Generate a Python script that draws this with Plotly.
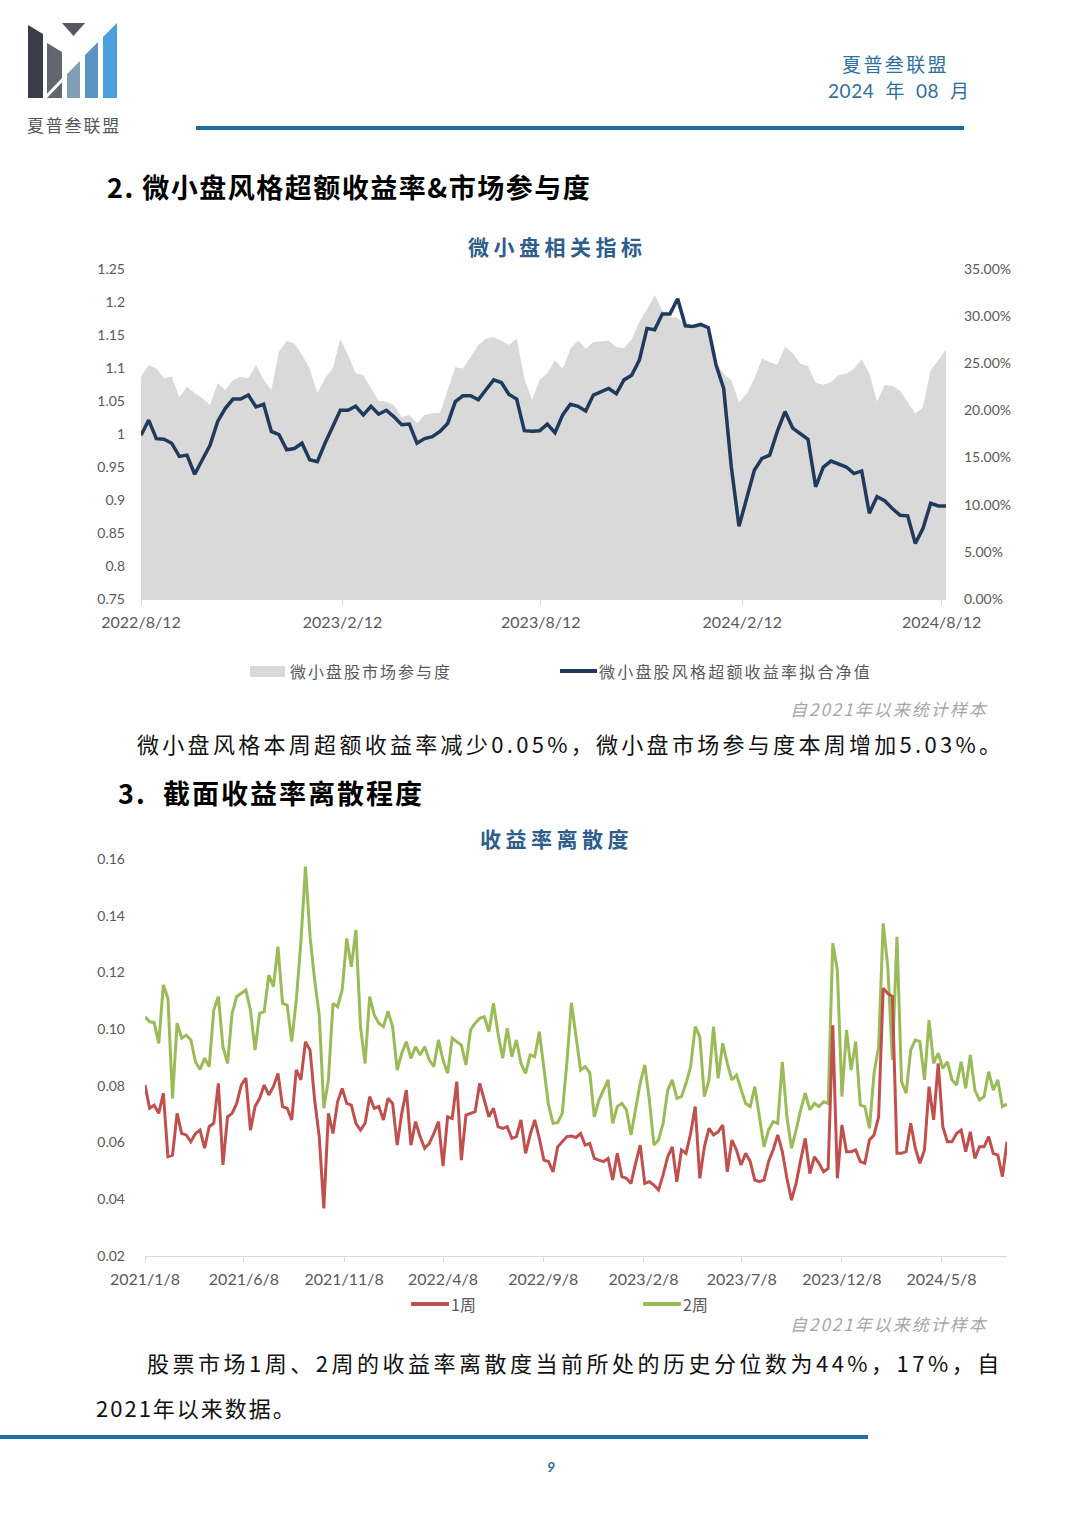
import pandas as pd
import plotly.graph_objects as go

W, H = 1080, 1528

# ---- chart 1: micro-cap indicators, weekly from 2022/8/12 ----
net_value = [
    0.998, 1.021, 0.993, 0.992, 0.986, 0.966, 0.968, 0.939, 0.961, 0.983,
    1.019, 1.039, 1.053, 1.053, 1.059, 1.041, 1.045, 1.004, 0.999, 0.976,
    0.978, 0.986, 0.961, 0.958, 0.986, 1.011, 1.036, 1.036, 1.042, 1.029,
    1.042, 1.030, 1.036, 1.026, 1.014, 1.015, 0.986, 0.993, 0.996, 1.004,
    1.016, 1.049, 1.058, 1.058, 1.052, 1.067, 1.082, 1.078, 1.060, 1.053,
    1.005, 1.004, 1.005, 1.015, 1.002, 1.029, 1.045, 1.042, 1.035, 1.059,
    1.064, 1.069, 1.061, 1.082, 1.089, 1.112, 1.160, 1.158, 1.182, 1.182,
    1.205, 1.164, 1.163, 1.166, 1.161, 1.105, 1.069, 0.950, 0.860, 0.905,
    0.945, 0.963, 0.968, 1.004, 1.034, 1.009, 1.001, 0.992, 0.920, 0.950,
    0.959, 0.955, 0.950, 0.940, 0.944, 0.880, 0.905, 0.899, 0.887, 0.877,
    0.876, 0.834, 0.857, 0.895, 0.891, 0.891,
]
participation = [  # percent
    23.58, 24.82, 24.46, 23.40, 23.58, 21.39, 22.52, 21.81, 21.28, 20.57,
    22.87, 22.16, 23.23, 23.58, 23.40, 24.82, 23.23, 22.16, 26.23, 27.36,
    27.11, 25.88, 24.46, 21.81, 23.40, 24.46, 27.54, 25.88, 23.93, 23.76,
    22.34, 21.03, 20.93, 20.57, 19.27, 19.51, 18.63, 19.51, 19.69, 19.76,
    22.16, 24.57, 24.46, 25.77, 26.94, 27.64, 27.75, 27.40, 26.94, 27.64,
    23.40, 21.10, 23.23, 23.93, 25.31, 24.43, 26.48, 27.43, 26.55, 27.26,
    27.33, 27.40, 26.73, 26.62, 27.54, 29.38, 30.72, 32.21, 30.62, 29.91,
    29.80, 29.10, 28.67, 29.03, 28.85, 25.13, 23.89, 23.19, 20.89, 21.77,
    23.36, 25.49, 25.13, 24.85, 26.73, 26.12, 24.96, 24.71, 22.94, 22.73,
    23.01, 23.72, 23.89, 24.43, 25.42, 23.89, 20.96, 22.66, 22.58, 22.12,
    20.89, 19.65, 20.36, 24.25, 25.31, 26.48,
]
c1_tick_dates = ['2022-08-12', '2023-02-12', '2023-08-12', '2024-02-12', '2024-08-12']
c1_tick_text = ['2022/8/12', '2023/2/12', '2023/8/12', '2024/2/12', '2024/8/12']

# ---- chart 2: return dispersion, weekly from 2021/1/8 ----
disp_1w = [
    0.0803, 0.0721, 0.0732, 0.0703, 0.0774, 0.0550, 0.0556, 0.0703, 0.0632, 0.0627,
    0.0603, 0.0632, 0.0644, 0.0580, 0.0656, 0.0668, 0.0809, 0.0521, 0.0691, 0.0703,
    0.0738, 0.0803, 0.0827, 0.0644, 0.0727, 0.0756, 0.0803, 0.0768, 0.0797, 0.0844,
    0.0727, 0.0721, 0.0680, 0.0856, 0.0821, 0.0956, 0.0926, 0.0750, 0.0621, 0.0368,
    0.0703, 0.0632, 0.0744, 0.0791, 0.0738, 0.0732, 0.0668, 0.0644, 0.0668, 0.0762,
    0.0721, 0.0727, 0.0680, 0.0756, 0.0738, 0.0591, 0.0703, 0.0785, 0.0591, 0.0674,
    0.0621, 0.0580, 0.0597, 0.0632, 0.0674, 0.0517, 0.0691, 0.0685, 0.0815, 0.0538,
    0.0697, 0.0703, 0.0709, 0.0809, 0.0750, 0.0691, 0.0721, 0.0656, 0.0650, 0.0656,
    0.0615, 0.0621, 0.0680, 0.0562, 0.0627, 0.0680, 0.0615, 0.0538, 0.0533, 0.0497,
    0.0585, 0.0603, 0.0621, 0.0623, 0.0618, 0.0632, 0.0591, 0.0597, 0.0544, 0.0538,
    0.0533, 0.0544, 0.0468, 0.0562, 0.0480, 0.0474, 0.0456, 0.0527, 0.0591, 0.0456,
    0.0462, 0.0450, 0.0433, 0.0486, 0.0550, 0.0585, 0.0462, 0.0574, 0.0562, 0.0632,
    0.0727, 0.0474, 0.0585, 0.0650, 0.0627, 0.0638, 0.0662, 0.0497, 0.0609, 0.0574,
    0.0521, 0.0562, 0.0533, 0.0468, 0.0462, 0.0468, 0.0533, 0.0574, 0.0627, 0.0568,
    0.0474, 0.0397, 0.0456, 0.0538, 0.0615, 0.0491, 0.0550, 0.0527, 0.0497, 0.0509,
    0.1014, 0.0474, 0.0662, 0.0568, 0.0568, 0.0574, 0.0533, 0.0527, 0.0609, 0.0627,
    0.0691, 0.1144, 0.1126, 0.1115, 0.0562, 0.0562, 0.0568, 0.0668, 0.0580, 0.0527,
    0.0574, 0.0797, 0.0680, 0.0879, 0.0656, 0.0603, 0.0603, 0.0632, 0.0644, 0.0568,
    0.0638, 0.0544, 0.0585, 0.0585, 0.0621, 0.0562, 0.0556, 0.0480, 0.0603,
]
disp_2w = [
    0.1044, 0.1026, 0.1023, 0.0950, 0.1156, 0.1109, 0.0756, 0.1021, 0.0968, 0.0979,
    0.0962, 0.0885, 0.0858, 0.0897, 0.0868, 0.1067, 0.1115, 0.0938, 0.0879, 0.1056,
    0.1115, 0.1126, 0.1138, 0.1067, 0.0926, 0.1056, 0.1062, 0.1191, 0.1150, 0.1291,
    0.1091, 0.1085, 0.0956, 0.1103, 0.1308, 0.1573, 0.1326, 0.1173, 0.1050, 0.0721,
    0.0821, 0.1091, 0.1079, 0.1138, 0.1320, 0.1220, 0.1350, 0.1009, 0.0879, 0.1115,
    0.1050, 0.1021, 0.1009, 0.1062, 0.1009, 0.0856, 0.0915, 0.0956, 0.0897, 0.0938,
    0.0909, 0.0938, 0.0891, 0.0868, 0.0962, 0.0891, 0.0844, 0.0968, 0.0956, 0.0944,
    0.0874, 0.0997, 0.1021, 0.1038, 0.1044, 0.0991, 0.1091, 0.0985, 0.0897, 0.1003,
    0.0903, 0.0962, 0.0879, 0.0844, 0.0909, 0.0903, 0.0991, 0.0868, 0.0733, 0.0668,
    0.0670, 0.0703, 0.0879, 0.1093, 0.0973, 0.0856, 0.0868, 0.0847, 0.0691, 0.0750,
    0.0785, 0.0821, 0.0668, 0.0727, 0.0738, 0.0715, 0.0627, 0.0721, 0.0809, 0.0874,
    0.0750, 0.0591, 0.0609, 0.0668, 0.0785, 0.0821, 0.0756, 0.0762, 0.0809, 0.0868,
    0.1009, 0.0973, 0.0762, 0.0821, 0.1009, 0.0827, 0.0950, 0.0879, 0.0821, 0.0838,
    0.0785, 0.0738, 0.0727, 0.0797, 0.0691, 0.0585, 0.0644, 0.0674, 0.0668, 0.0885,
    0.0691, 0.0580, 0.0644, 0.0715, 0.0774, 0.0715, 0.0738, 0.0727, 0.0744, 0.0738,
    0.1303, 0.1209, 0.0762, 0.0997, 0.0856, 0.0956, 0.0732, 0.0727, 0.0650, 0.0844,
    0.0938, 0.1373, 0.1220, 0.0891, 0.1326, 0.0815, 0.0774, 0.0926, 0.0962, 0.0956,
    0.0821, 0.1032, 0.0879, 0.0915, 0.0862, 0.0885, 0.0821, 0.0803, 0.0885, 0.0791,
    0.0909, 0.0785, 0.0750, 0.0762, 0.0850, 0.0785, 0.0821, 0.0727, 0.0736,
]
c2_tick_dates = ['2021-01-08', '2021-06-08', '2021-11-08', '2022-04-08', '2022-09-08',
                 '2023-02-08', '2023-07-08', '2023-12-08', '2024-05-08']
c2_tick_text = ['2021/1/8', '2021/6/8', '2021/11/8', '2022/4/8', '2022/9/8',
                '2023/2/8', '2023/7/8', '2023/12/8', '2024/5/8']

CJK = 'Noto Sans CJK SC'
NUM = 'Lato, Noto Sans CJK SC'
NAVY = '#1f3a5c'
RED = '#c0504d'
GREEN = '#9bbb59'
AREA = '#d9d9d9'
TICK = '#595959'
BLUE = '#2f6f9f'


# page pixel -> paper coordinates
def fx(px):
    return px / W


def fy(py):
    return 1 - py / H


d1 = pd.date_range('2022-08-12', periods=len(net_value), freq='7D')
d2 = pd.date_range('2021-01-08', periods=len(disp_1w), freq='7D')

fig = go.Figure()
fig.add_trace(go.Scatter(x=d1, y=[v / 100 for v in participation], mode='lines', fill='tozeroy',
                         fillcolor=AREA, line=dict(width=0, color=AREA), name='微小盘股市场参与度',
                         xaxis='x', yaxis='y', showlegend=False, hoverinfo='skip'))
fig.add_trace(go.Scatter(x=d1, y=net_value, mode='lines', line=dict(color=NAVY, width=3.5),
                         name='微小盘股风格超额收益率拟合净值', xaxis='x', yaxis='y2', showlegend=False))
fig.add_trace(go.Scatter(x=d2, y=disp_2w, mode='lines', line=dict(color=GREEN, width=3),
                         name='2周', xaxis='x2', yaxis='y3', showlegend=False))
fig.add_trace(go.Scatter(x=d2, y=disp_1w, mode='lines', line=dict(color=RED, width=3),
                         name='1周', xaxis='x2', yaxis='y3', showlegend=False))

xfont = dict(family=NUM, size=16, color=TICK)
yfont = dict(family=NUM, size=14, color=TICK)

fig.update_layout(
    template='none',
    width=W, height=H, margin=dict(l=0, r=0, t=0, b=0, pad=0, autoexpand=False),
    paper_bgcolor='white', plot_bgcolor='white', showlegend=False,
    xaxis=dict(domain=[fx(141), fx(946)], anchor='y', type='date', range=[d1[0], d1[-1]],
               tickvals=c1_tick_dates, ticktext=c1_tick_text, showgrid=False, zeroline=False,
               showline=True, linecolor=AREA, ticks='outside', ticklen=5, tickcolor=AREA,
               tickfont=xfont, ticklabelstandoff=4, automargin=False),
    yaxis=dict(domain=[fy(599), fy(269)], anchor='x', side='right', range=[0, 0.35], dtick=0.05,
               tickformat='.2%', showgrid=False, zeroline=False, showline=False, ticks='',
               tickfont=yfont, ticklabelstandoff=17, automargin=False),
    yaxis2=dict(overlaying='y', anchor='x', side='left', range=[0.75, 1.25], dtick=0.05,
                showgrid=False, zeroline=False, showline=False, ticks='',
                tickfont=yfont, ticklabelstandoff=15, automargin=False),
    xaxis2=dict(domain=[fx(145), fx(1007)], anchor='y3', type='date', range=[d2[0], d2[-1]],
                tickvals=c2_tick_dates, ticktext=c2_tick_text, showgrid=False, zeroline=False,
                showline=True, linecolor=AREA, ticks='outside', ticklen=5, tickcolor=AREA,
                tickfont=xfont, ticklabelstandoff=4, automargin=False),
    yaxis3=dict(domain=[fy(1256), fy(859)], anchor='x2', range=[0.02, 0.16], dtick=0.02,
                tickformat='.2f', showgrid=False, zeroline=False, showline=False, ticks='',
                tickfont=yfont, ticklabelstandoff=19, automargin=False),
)

shapes = []
annotations = []


def poly(pts, color):
    path = 'M ' + ' L '.join(f'{fx(x):.5f},{fy(y):.5f}' for x, y in pts) + ' Z'
    shapes.append(dict(type='path', path=path, xref='paper', yref='paper',
                       fillcolor=color, line=dict(width=0)))


def hline(x0, x1, y, color, width):
    shapes.append(dict(type='line', xref='paper', yref='paper', x0=fx(x0), x1=fx(x1),
                       y0=fy(y), y1=fy(y), line=dict(color=color, width=width)))


def text(s, x, y, size, color='black', anchor='left', family=CJK, spacing=None):
    if spacing:
        s = f'<span style="letter-spacing:{spacing}px">{s}</span>'
    annotations.append(dict(text=s, x=fx(x), y=fy(y), xref='paper', yref='paper',
                            xanchor=anchor, yanchor='middle', showarrow=False,
                            font=dict(family=family, size=size, color=color)))


# logo
poly([(28, 25), (43, 34), (43, 98), (28, 98)], '#3b3e46')
poly([(47, 43), (62, 52), (62, 98), (47, 98)], '#62666e')
poly([(62, 23), (85, 23), (73.5, 36)], '#55585f')
poly([(67, 74), (80, 61), (80, 98), (67, 98)], '#7f9db3')
poly([(85, 55), (98, 42), (98, 98), (85, 98)], '#5a92c4')
poly([(103, 37), (117, 23), (117, 98), (103, 98)], '#4aa0dc')
shapes.append(dict(type='line', xref='paper', yref='paper', x0=fx(44), y0=fy(99), x1=fx(66),
                   y1=fy(76), line=dict(color='white', width=3)))
text('夏普叁联盟', 74, 124, 17, '#555555', 'center', spacing=1.8)

# header right
text('夏普叁联盟', 895, 63, 19, BLUE, 'center', spacing=2.4)
text('2024  年  08  月', 899, 90, 19, BLUE, 'center', family=NUM, spacing=0.6)
hline(196, 964, 128, '#1f6b9a', 4)

# section 2
text('<b>2. 微小盘风格超额收益率&市场参与度</b>', 105, 186, 27, spacing=1.5)
text('<b>微小盘相关指标</b>', 557, 246, 21, '#2f5d8c', 'center', spacing=4.5)
shapes.append(dict(type='rect', xref='paper', yref='paper', x0=fx(250), x1=fx(285),
                   y0=fy(677), y1=fy(666), fillcolor=AREA, line=dict(width=0)))
text('微小盘股市场参与度', 288, 671, 16, TICK, spacing=2)
hline(560, 597, 671, NAVY, 4)
text('微小盘股风格超额收益率拟合净值', 597, 671, 16, TICK, spacing=2.2)
text('<i>自2021年以来统计样本</i>', 990, 708, 17, '#a6a6a6', 'right', spacing=2)
text('微小盘风格本周超额收益率减少0.05%，微小盘市场参与度本周增加5.03%。', 135, 743, 22, '#111111', spacing=3.3)

# section 3
text('<b>3.  截面收益率离散程度</b>', 116, 792, 27, spacing=2)
text('<b>收益率离散度</b>', 556, 838, 21, '#2f5d8c', 'center', spacing=4.5)
hline(411, 449, 1304, RED, 4)
text('1周', 449, 1304, 16, TICK)
hline(643, 681, 1304, GREEN, 4)
text('2周', 681, 1304, 16, TICK)
text('<i>自2021年以来统计样本</i>', 990, 1323, 17, '#a6a6a6', 'right', spacing=2)
text('股票市场1周、2周的收益率离散度当前所处的历史分位数为44%，17%，自', 145, 1362, 22, '#111111', spacing=3.5)
text('2021年以来数据。', 94, 1407, 22, '#111111', spacing=2)

# footer
hline(0, 868, 1437, '#1f6fa5', 4)
text('<b><i>9</i></b>', 551, 1466, 14, BLUE, 'center', family=NUM)

fig.update_layout(shapes=shapes, annotations=annotations)
fig.write_html('out.html', config={'displayModeBar': False},
               post_script="document.body.style.margin='0';")
